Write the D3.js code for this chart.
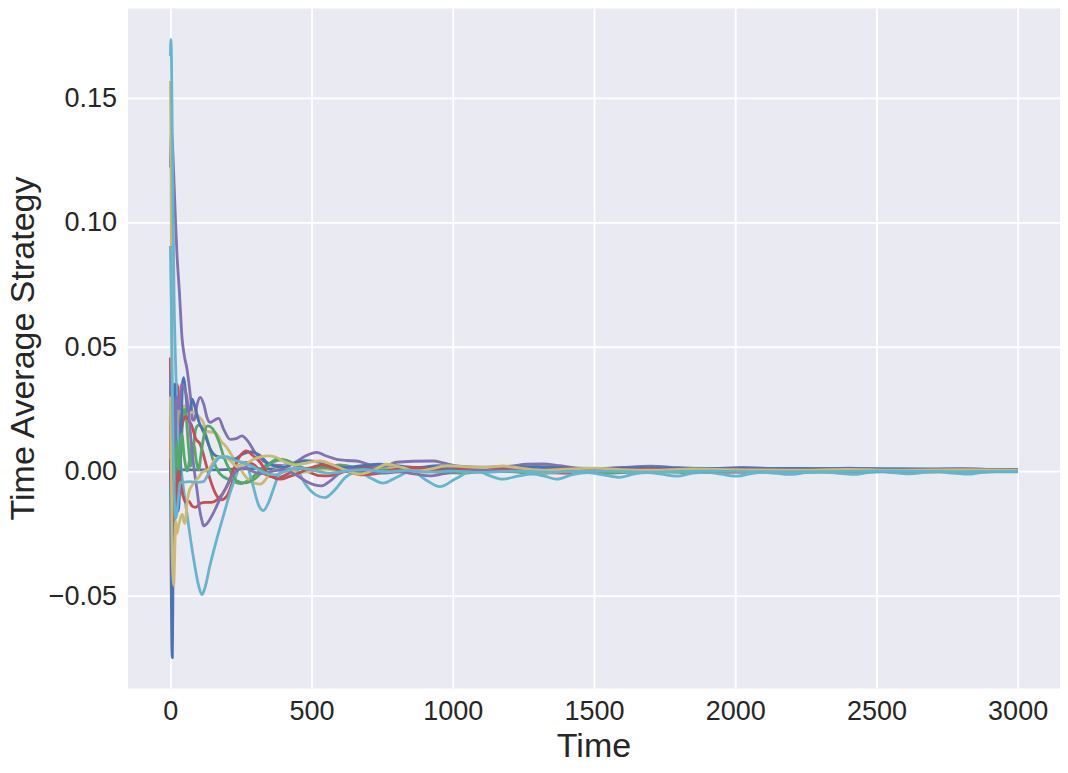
<!DOCTYPE html>
<html>
<head>
<meta charset="utf-8">
<script src="https://cdn.jsdelivr.net/npm/d3@7"></script>
<style>
  html, body { margin: 0; padding: 0; background: #ffffff; }
  svg { display: block; }
  text { font-family: "Liberation Sans", Arial, sans-serif; fill: #262626; }
</style>
</head>
<body>
<svg id="chart" width="1068" height="773"></svg>
<script>
// ---- data: [time, value] pairs ----
const blueA = [[0,0.017],[2,0.035],[5,-0.015],[8,0.02],[11,-0.01],[14,0.008],[18,-0.012],[22,0.0],[26,0.0005],[60,0.0005],[120,0.0005],[160,0.0005],[220,0.0008],[300,0.0010],[400,0.0008],[500,0.0012],[600,0.0010],[800,0.0012],[1000,0.0010],[1300,0.0011],[1600,0.0009],[2000,0.0010],[2500,0.0008],[3000,0.0007]];
const greenA = [[0,0.025],[3,0.0],[6,0.02],[10,-0.005],[15,0.01],[20,0.0],[28,0.015],[36,0.005],[43,0.02],[50,0.0262],[56,0.022],[64,0.01],[72,0.002],[80,0.008],[90,0.017],[100,0.0185],[115,0.0175],[130,0.013],[150,0.005],[175,-0.001],[210,-0.0035],[250,-0.005],[290,-0.0025],[340,0.0025],[395,0.0045],[440,0.0025],[490,0.0005],[540,0.0012],[600,0.0025],[650,0.0015],[720,0.0],[800,0.0008],[880,0.0012],[960,-0.0005],[1040,-0.0008],[1120,0.0],[1200,-0.0002],[1300,-0.0009],[1400,-0.0004],[1550,-0.0008],[1700,-0.0002],[1850,-0.0006],[2000,-0.0003],[2200,-0.0005],[2500,-0.0002],[2800,-0.0004],[3000,-0.0002]];
const redA = [[0,0.0457],[2,0.02],[4,0.035],[7,-0.005],[11,0.02],[16,0.035],[21,0.035],[26,0.034],[31,0.012],[36,0.015],[45,0.02],[55,0.022],[62,0.021],[75,0.0185],[90,0.013],[106,0.0108],[120,0.0055],[140,-0.003],[160,-0.009],[180,-0.0115],[200,-0.01],[220,-0.0045],[240,0.001],[260,0.0035],[290,0.003],[320,0.0],[350,-0.002],[380,-0.0025],[420,-0.0008],[460,0.0015],[495,-0.0005],[530,-0.0018],[560,-0.0019],[600,-0.0008],[650,0.001],[695,0.0021],[740,0.0012],[790,0.0003],[850,0.0008],[907,0.0011],[960,0.0003],[1020,-0.0002],[1100,0.0003],[1200,0.0008],[1300,-0.0002],[1400,-0.0008],[1500,-0.0002],[1650,0.0004],[1800,-0.0001],[2000,-0.0004],[2200,0.0001],[2400,-0.0002],[2700,0.0002],[3000,0.0001]];
const purpleA = [[0,0.122],[4,0.136],[8,0.13],[15,0.11],[23,0.088],[32,0.072],[41,0.054],[50,0.046],[59,0.041],[66,0.035],[73,0.028],[79,0.0205],[85,0.0205],[95,0.027],[106,0.0297],[118,0.027],[130,0.0215],[141,0.0196],[156,0.0205],[171,0.0212],[190,0.0165],[212,0.0128],[235,0.0132],[253,0.0142],[275,0.012],[300,0.0075],[330,0.004],[365,0.0025],[400,0.0022],[440,0.0035],[480,0.0062],[518,0.0076],[550,0.0062],[589,0.0048],[625,0.0043],[660,0.0041],[695,0.003],[730,0.0016],[765,0.0022],[801,0.0036],[860,0.004],[930,0.0041],[970,0.0032],[1013,0.0021],[1060,0.0017],[1119,0.0016],[1160,0.0018],[1213,0.0021],[1260,0.0028],[1318,0.0029],[1380,0.0022],[1450,0.0012],[1520,0.001],[1600,0.0015],[1700,0.002],[1800,0.0014],[1900,0.0009],[2025,0.0015],[2150,0.001],[2250,0.0008],[2400,0.0012],[2550,0.0008],[2650,0.0007],[2800,0.001],[2920,0.0007],[3000,0.0006]];
const yellowA = [[0,0.1568],[2,0.13],[4,0.08],[6,0.03],[8,-0.005],[11,0.0],[14,0.025],[18,0.03],[24,0.02],[30,0.028],[38,0.025],[47,0.026],[59,0.0256],[71,0.0235],[85,0.0238],[100,0.022],[115,0.02],[130,0.016],[159,0.0155],[180,0.012],[200,0.0095],[225,0.005],[245,0.0015],[265,-0.002],[290,-0.0045],[318,-0.0052],[340,-0.003],[360,0.0],[390,0.001],[420,0.0005],[460,-0.0005],[500,0.0],[550,0.0008],[600,0.0002],[660,-0.0005],[720,0.0002],[780,0.0012],[840,0.0015],[900,0.0005],[960,-0.0005],[1020,0.0],[1100,0.0008],[1180,0.0012],[1260,0.0],[1340,-0.0005],[1420,0.0003],[1500,0.0008],[1600,0.0003],[1700,-0.0002],[1800,0.0003],[1950,0.0006],[2100,0.0001],[2300,0.0004],[2500,0.0002],[2750,0.0004],[3000,0.0002]];
const cyanA = [[0,0.1668],[2,0.1735],[4,0.165],[8,0.12],[13,0.07],[18,0.045],[25,0.02],[32,0.008],[39,0.0],[50,-0.01],[60,-0.018],[71,-0.027],[85,-0.037],[100,-0.046],[112,-0.0496],[122,-0.047],[140,-0.038],[165,-0.027],[190,-0.017],[212,-0.0085],[232,-0.002],[248,0.0025],[260,0.0036],[274,0.0015],[292,-0.0055],[312,-0.0135],[329,-0.0158],[348,-0.0125],[370,-0.0055],[395,0.0012],[424,0.0036],[450,0.0005],[480,-0.0055],[515,-0.0095],[548,-0.0106],[580,-0.0078],[620,-0.0025],[665,-0.0004],[710,-0.0028],[753,-0.0048],[800,-0.0025],[854,0.0],[905,-0.0035],[954,-0.0062],[1010,-0.003],[1078,0.0004],[1130,-0.0018],[1177,-0.0032],[1230,-0.002],[1283,-0.0012],[1325,-0.002],[1368,-0.0032],[1420,-0.0015],[1480,-0.0006],[1535,-0.0015],[1590,-0.0025],[1640,-0.0012],[1690,-0.0006],[1740,-0.0012],[1792,-0.002],[1850,-0.0008],[1900,-0.0005],[1950,-0.0012],[2007,-0.002],[2060,-0.0009],[2100,-0.0005],[2150,-0.0009],[2190,-0.0013],[2250,-0.0006],[2300,-0.0003],[2360,-0.0008],[2417,-0.0013],[2470,-0.0006],[2520,-0.0003],[2570,-0.0007],[2618,-0.0011],[2670,-0.0005],[2720,-0.0002],[2770,-0.0008],[2823,-0.0012],[2870,-0.0006],[2920,-0.0002],[3000,-0.0003]];
const blueB = [[0,0.005],[2,-0.03],[5,-0.07],[7,-0.0749],[9,-0.05],[12,0.01],[15,0.035],[18,0.015],[22,-0.01],[27,-0.016],[32,-0.01],[38,0.015],[43,0.035],[47,0.0376],[53,0.033],[62,0.024],[70,0.025],[77,0.029],[84,0.027],[100,0.0202],[124,0.0142],[141,0.009],[165,0.006],[190,0.0055],[225,0.0048],[255,0.0068],[285,0.0078],[315,0.0065],[350,0.0028],[400,0.0015],[440,0.0032],[475,0.0042],[520,0.0038],[570,0.0025],[620,0.0015],[680,0.0022],[740,0.0028],[800,0.0022],[870,0.0015],[950,0.0022],[1030,0.0018],[1100,0.0012],[1200,0.0016],[1300,0.0018],[1400,0.0012],[1500,0.001],[1650,0.0014],[1800,0.0012],[2000,0.001],[2200,0.0011],[2400,0.0009],[2600,0.0009],[2800,0.0008],[3000,0.0006]];
const greenB = [[0,0.02],[3,0.035],[6,0.005],[10,0.02],[15,-0.005],[22,0.012],[30,0.0],[40,0.015],[50,0.005],[60,0.0],[70,0.006],[82,0.0115],[92,0.004],[100,0.0005],[110,0.008],[122,0.016],[132,0.0182],[150,0.017],[171,0.0122],[190,0.0055],[210,0.0005],[236,-0.0039],[265,-0.0047],[300,-0.003],[340,0.0015],[377,0.0048],[410,0.0045],[445,0.0025],[490,0.0008],[540,0.0015],[600,0.0005],[680,-0.0005],[760,0.0005],[850,0.0002],[940,-0.0002],[1000,0.0003],[1100,-0.0003],[1250,0.0003],[1400,0.0],[1600,0.0003],[1800,0.0],[2100,0.0002],[2400,0.0],[2700,0.0002],[3000,0.0001]];
const redB = [[0,0.03],[3,-0.005],[6,0.012],[10,-0.02],[14,-0.005],[20,-0.015],[28,0.0],[36,-0.005],[45,-0.01],[55,-0.0125],[65,-0.012],[77,-0.014],[90,-0.0145],[105,-0.013],[125,-0.0125],[145,-0.0125],[165,-0.0115],[188,-0.0086],[208,-0.004],[224,0.0008],[247,0.0062],[270,0.0082],[290,0.0065],[318,0.0035],[353,-0.0019],[389,-0.0032],[420,-0.0022],[460,-0.0005],[500,0.0015],[540,0.0025],[580,0.0012],[630,-0.0002],[680,-0.0015],[730,-0.001],[790,0.0005],[850,0.0015],[910,0.001],[970,0.0],[1040,0.0008],[1120,0.0012],[1200,0.0005],[1300,0.0003],[1400,0.0008],[1550,0.0004],[1700,0.0007],[1900,0.0003],[2100,0.0005],[2400,0.0003],[2700,0.0004],[3000,0.0002]];
const purpleB = [[0,0.02],[3,0.04],[6,0.005],[10,0.03],[15,0.01],[22,0.03],[30,0.025],[40,0.035],[50,0.033],[58,0.03],[66,0.022],[75,0.01],[85,0.0],[94,-0.0072],[103,-0.015],[112,-0.02],[118,-0.022],[130,-0.021],[153,-0.0166],[170,-0.0125],[188,-0.0085],[205,-0.005],[218,-0.0019],[240,0.0005],[265,0.0015],[290,0.0],[320,-0.001],[360,0.0],[400,0.0005],[440,-0.0012],[480,-0.004],[510,-0.0055],[536,-0.0059],[565,-0.004],[601,-0.0006],[640,0.0008],[690,0.0],[750,-0.0008],[810,-0.0003],[870,-0.0012],[919,-0.0019],[970,-0.001],[1030,0.0],[1100,0.0005],[1200,0.0],[1300,0.0007],[1400,0.0002],[1500,0.0005],[1650,0.0001],[1800,0.0004],[2000,0.0],[2200,0.0004],[2500,0.0001],[2800,0.0003],[3000,0.0002]];
const yellowB = [[0,0.03],[3,0.005],[6,-0.03],[9,-0.042],[12,-0.046],[15,-0.035],[19,-0.02],[23,-0.025],[29,-0.022],[38,-0.018],[43,-0.0174],[47,-0.02],[53,-0.021],[58,-0.014],[65,-0.0086],[75,-0.006],[88,-0.0039],[100,-0.0025],[112,-0.0005],[135,0.0008],[159,0.0048],[185,0.006],[210,0.0045],[235,0.002],[260,0.0025],[290,0.0045],[320,0.0058],[345,0.0062],[370,0.0058],[400,0.004],[440,0.0025],[490,0.0035],[530,0.0041],[570,0.0028],[620,0.0005],[671,-0.0012],[720,0.0005],[766,0.0028],[820,0.0015],[872,0.0],[920,0.0008],[980,0.0022],[1050,0.0018],[1120,0.0015],[1178,0.0021],[1240,0.0012],[1320,0.0003],[1400,0.0008],[1500,0.0012],[1600,0.0006],[1700,0.0004],[1850,0.0009],[2000,0.0006],[2200,0.0004],[2400,0.0007],[2600,0.0004],[2800,0.0006],[3000,0.0004]];
const cyanB = [[0,0.0905],[3,0.07],[6,0.04],[10,0.01],[14,-0.01],[18,-0.019],[23,-0.017],[29,-0.01],[35,-0.0044],[47,-0.0044],[70,-0.0042],[95,-0.0045],[117,-0.0042],[135,-0.001],[155,0.003],[177,0.0057],[200,0.0058],[225,0.0045],[255,0.0035],[290,0.002],[330,-0.0005],[370,-0.0015],[410,0.0],[450,0.0012],[500,0.0005],[560,-0.0008],[620,0.0],[690,0.0006],[760,-0.0002],[840,0.0003],[920,-0.0004],[1000,0.0],[1100,-0.0005],[1200,0.0],[1350,-0.0004],[1500,0.0],[1700,-0.0004],[1900,0.0],[2200,-0.0003],[2500,0.0],[2800,-0.0002],[3000,-0.0001]];

const seriesList = [blueA, greenA, redA, purpleA, yellowA, cyanA, blueB, greenB, redB, purpleB, yellowB, cyanB];
const palette = ["#4C72B0", "#55A868", "#C44E52", "#8172B2", "#CCB974", "#64B5CD"];
const xTicks = [0, 500, 1000, 1500, 2000, 2500, 3000];
const yTicks = [-0.05, 0.00, 0.05, 0.10, 0.15];
const xLabel = "Time";
const yLabel = "Time Average Strategy";

// ---- layout ----
const svg = d3.select("#chart");
const plot = { left: 128, right: 1060, top: 8.5, bottom: 688.5 };

const x = d3.scaleLinear().domain([-150, 3150]).range([plot.left, plot.right]);
const y = d3.scaleLinear().domain([-0.0873, 0.1859]).range([plot.bottom, plot.top]);

svg.append("rect")
  .attr("x", plot.left).attr("y", plot.top)
  .attr("width", plot.right - plot.left).attr("height", plot.bottom - plot.top)
  .attr("fill", "#EAEAF2");

svg.append("defs").append("clipPath").attr("id", "clip")
  .append("rect")
  .attr("x", plot.left).attr("y", plot.top)
  .attr("width", plot.right - plot.left).attr("height", plot.bottom - plot.top);

// grid lines via axes
const gx = svg.append("g")
  .attr("transform", `translate(0,${plot.bottom})`)
  .call(d3.axisBottom(x).tickValues(xTicks).tickSize(-(plot.bottom - plot.top)).tickFormat(d3.format("d")).tickPadding(12));
const gy = svg.append("g")
  .attr("transform", `translate(${plot.left},0)`)
  .call(d3.axisLeft(y).tickValues(yTicks).tickSize(-(plot.right - plot.left)).tickFormat(d3.format(".2f")).tickPadding(11));

[gx, gy].forEach(g => {
  g.select(".domain").remove();
  g.selectAll(".tick line").attr("stroke", "#ffffff").attr("stroke-width", 1.8);
  g.selectAll(".tick text")
    .attr("font-family", '"Liberation Sans", Arial, sans-serif')
    .attr("font-size", 27)
    .attr("fill", "#262626");
});
gx.selectAll(".tick text").attr("dy", "0.71em");

// lines
const line = d3.line()
  .x(d => x(d[0]))
  .y(d => y(d[1]))
  .curve(d3.curveMonotoneX);

svg.append("g").attr("clip-path", "url(#clip)")
  .selectAll("path")
  .data(seriesList)
  .join("path")
  .attr("d", line)
  .attr("fill", "none")
  .attr("stroke", (d, i) => palette[i % palette.length])
  .attr("stroke-width", 2.8)
  .attr("stroke-linejoin", "round")
  .attr("stroke-linecap", "butt");

// axis labels
svg.append("text")
  .attr("x", (plot.left + plot.right) / 2)
  .attr("y", 757)
  .attr("text-anchor", "middle")
  .attr("font-size", 34)
  .text(xLabel);

svg.append("text")
  .attr("transform", `translate(34,${(plot.top + plot.bottom) / 2}) rotate(-90)`)
  .attr("text-anchor", "middle")
  .attr("font-size", 34)
  .text(yLabel);
</script>
</body>
</html>
